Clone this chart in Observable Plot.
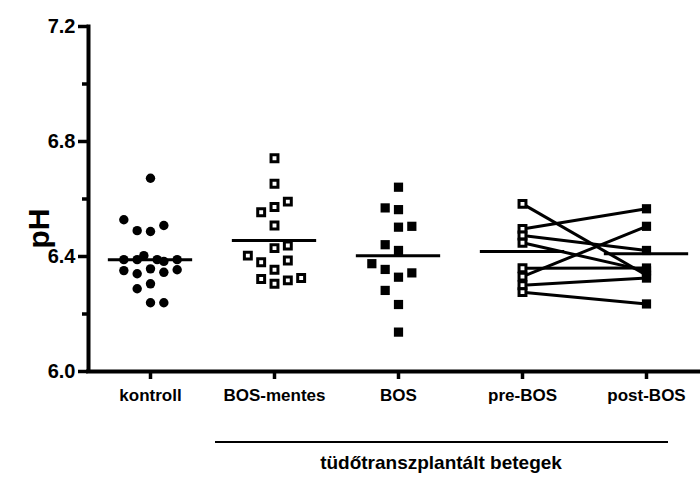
<!DOCTYPE html>
<html><head><meta charset="utf-8">
<script src="https://cdn.jsdelivr.net/npm/d3@7"></script>
<script src="https://cdn.jsdelivr.net/npm/@observablehq/plot@0.6"></script>
<style>
html,body{margin:0;padding:0;background:#fff;}
body{width:700px;height:483px;overflow:hidden;font-family:"Liberation Sans",Arial,sans-serif;}
#bracket{position:relative;width:700px;height:58px;}
#bracket .line{position:absolute;left:215px;width:453px;top:16px;border-top:2px solid #000;}
#bracket .label{position:absolute;left:191px;width:500px;top:27px;text-align:center;font-weight:bold;font-size:19px;line-height:22px;color:#000;}
</style></head><body>
<div id="chart"></div>
<div id="bracket"><div class="line"></div><div class="label">tüdőtranszplantált betegek</div></div>
<script>
// ---- data ----
const groups = ["kontroll", "BOS-mentes", "BOS", "pre-BOS", "post-BOS"];
const yMajorTicks = [6.0, 6.4, 6.8, 7.2];
const yMinorTicks = [6.2, 6.6, 7.0];

const kontrollPH   = [6.672, 6.528, 6.490, 6.487, 6.508, 6.389, 6.389, 6.403, 6.389, 6.383, 6.389, 6.351, 6.340, 6.357, 6.345, 6.354, 6.288, 6.305, 6.239, 6.239];
const kontrollSlot = [0, -2, -1, 0, 1, -2, -1, -0.5, 0.5, 1, 2, -2, -1, 0, 1, 2, -1, 0, 0, 1];

const bosMentesPH   = [6.742, 6.653, 6.591, 6.554, 6.572, 6.508, 6.429, 6.438, 6.403, 6.380, 6.386, 6.354, 6.322, 6.305, 6.317, 6.325];
const bosMentesSlot = [0, 0, 1, -1, 0, 0, 0, 1, -2, -1, 1, 0, -1, 0, 1, 2];

const bosPH   = [6.641, 6.569, 6.563, 6.502, 6.505, 6.441, 6.421, 6.375, 6.355, 6.328, 6.343, 6.282, 6.233, 6.137];
const bosSlot = [0, -1, 0, 0, 1, -1, 0, -2, -1, 0, 1, -1, 0, 0];

const preBOS  = [6.583, 6.496, 6.473, 6.448, 6.359, 6.330, 6.300, 6.276];
const postBOS = [6.335, 6.566, 6.421, 6.350, 6.360, 6.505, 6.325, 6.235];

const groupMeans = [6.389, 6.456, 6.403, 6.417, 6.410];

// ---- build tables ----
const STEP = 0.1075;
const mk = (ph, slot, g) => ph.map((v, i) => ({x: g + slot[i] * STEP, y: v}));
const kontroll = mk(kontrollPH, kontrollSlot, 0);
const bosMentes = mk(bosMentesPH, bosMentesSlot, 1);
const bos = mk(bosPH, bosSlot, 2);
const pairs = preBOS.map((v, i) => ({pre: v, post: postBOS[i]}));
const means = groupMeans.map((m, i) => ({i, m}));
const xDomain = [-0.5, 4.5];
const yDomain = [6.0, 7.2];
const xTicks = groups.map((g, i) => i);

// one pixel in data units (x: 124 px per group, y: 287.5 px per pH unit)
const PX_X = 1 / 124, PX_Y = 1 / 287.5;

const font = "Liberation Sans, Arial, Helvetica, sans-serif";

const chart = Plot.plot({
  width: 700,
  height: 425,
  marginTop: 0,
  marginBottom: 0,
  marginLeft: 0,
  marginRight: 0,
  style: {fontFamily: font, color: "black", background: "white"},
  x: {domain: xDomain, range: [88, 708], axis: null},
  y: {domain: yDomain, range: [371, 26], axis: null},
  marks: [
    // tick labels
    Plot.text(yMajorTicks, {x: () => xDomain[0], y: d => d, text: d => d3.format(".1f")(d), dx: -13,
      textAnchor: "end", fontSize: 20, fontWeight: "bold", fill: "black", clip: false}),
    Plot.text(xTicks, {x: d => d, y: () => yDomain[0], text: i => groups[i], dy: 17, lineAnchor: "top",
      fontSize: 17, fontWeight: "bold", fill: "black", clip: false}),
    // tick marks
    Plot.ruleY(yMajorTicks, {x1: xDomain[0] - 10 * PX_X, x2: xDomain[0], stroke: "black", strokeWidth: 3.5, clip: false}),
    Plot.ruleY(yMinorTicks, {x1: xDomain[0] - 6 * PX_X, x2: xDomain[0], stroke: "black", strokeWidth: 3.5, clip: false}),
    Plot.ruleX(xTicks, {y1: yDomain[0], y2: yDomain[0] - 8 * PX_Y, stroke: "black", strokeWidth: 3.5, clip: false}),
    // axis lines
    Plot.ruleX([xDomain[0]], {y1: yDomain[0] - 2 * PX_Y, y2: yDomain[1] + 1.5 * PX_Y, stroke: "black", strokeWidth: 4, clip: false}),
    Plot.ruleY([yDomain[0]], {x1: xDomain[0] - 2 * PX_X, x2: xDomain[1], stroke: "black", strokeWidth: 4, clip: false}),
    Plot.text(["pH"], {x: () => -0.9, y: () => 6.497, rotate: -90, fontSize: 30, fontWeight: "bold", fill: "black", clip: false}),
    // paired lines
    Plot.link(pairs, {x1: () => 3, x2: () => 4, y1: "pre", y2: "post", stroke: "black", strokeWidth: 3}),
    // points
    Plot.dot(kontroll, {x: "x", y: "y", r: 4.7, fill: "black", stroke: "none"}),
    Plot.dot(bosMentes, {x: "x", y: "y", symbol: "square", r: 3.9, fill: "white", stroke: "black", strokeWidth: 3}),
    Plot.dot(bos, {x: "x", y: "y", symbol: "square", r: 5.2, fill: "black", stroke: "none"}),
    Plot.dot(pairs, {x: () => 3, y: "pre", symbol: "square", r: 3.9, fill: "white", stroke: "black", strokeWidth: 3}),
    Plot.dot(pairs, {x: () => 4, y: "post", symbol: "square", r: 5.2, fill: "black", stroke: "none"}),
    // mean lines
    Plot.ruleY(means, {y: "m", x1: d => d.i - 0.34, x2: d => d.i + 0.34, stroke: "black", strokeWidth: 3})
  ]
});
document.getElementById("chart").appendChild(chart);
</script>
</body></html>
